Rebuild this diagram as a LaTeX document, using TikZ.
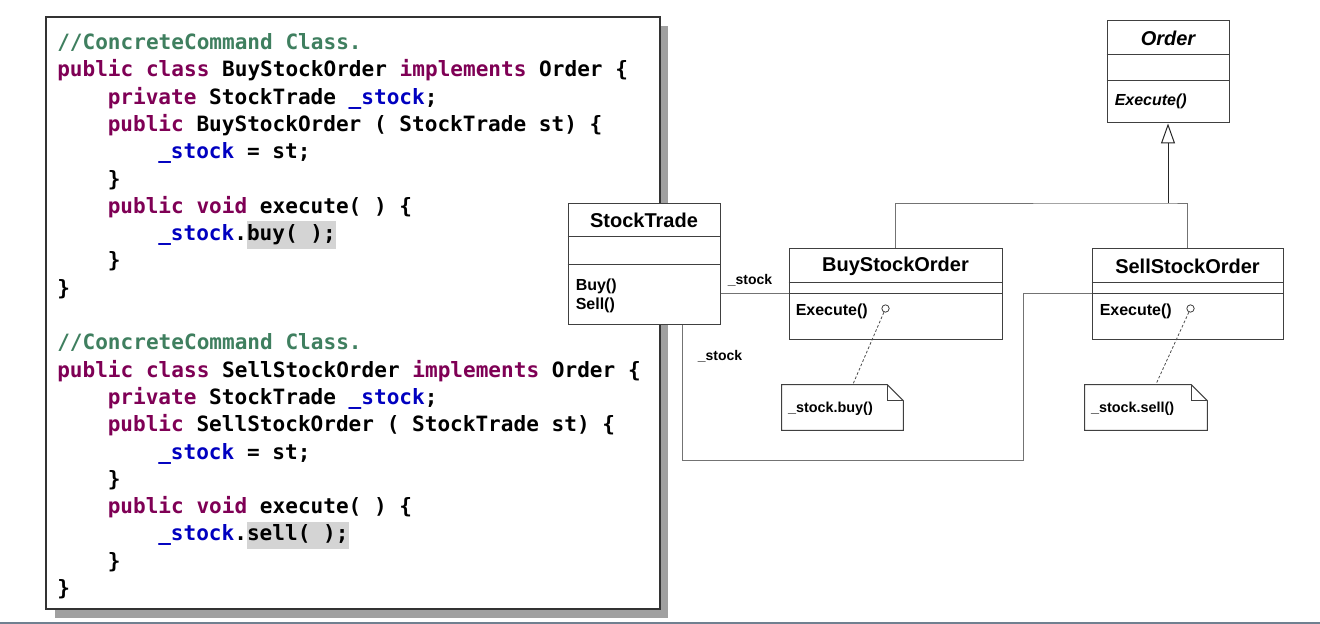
\documentclass[tikz,border=0pt]{standalone}
\usepackage{fontspec}
\setmainfont{Liberation Sans}
\newfontfamily\codefont{DejaVu Sans Mono}
\usepackage{tikz}
\usetikzlibrary{positioning, calc, fit, arrows.meta}
\definecolor{kwpurple}{HTML}{7F0055}
\definecolor{cmtgreen}{HTML}{3F7F5F}
\definecolor{fldblue}{HTML}{0000C0}
\definecolor{hlgray}{HTML}{D4D4D4}
\definecolor{shadowgray}{HTML}{A0A0A0}
\definecolor{rulegray}{HTML}{708090}
\newcommand{\kw}[1]{\textcolor{kwpurple}{#1}}
\newcommand{\cmt}[1]{\textcolor{cmtgreen}{#1}}
\newcommand{\fld}[1]{\textcolor{fldblue}{#1}}
\newcommand{\hlt}[1]{{\setlength{\fboxsep}{0pt}\colorbox{hlgray}{\strut#1}}}

\begin{document}
\begin{tikzpicture}[
  x=0.75pt, y=-0.75pt,
  codebox/.style={draw=black!80, fill=white, line width=0.9pt, inner sep=0},
  code/.style={anchor=base west, inner sep=0, font=\codefont\bfseries\fontsize{15.8}{20.5}\selectfont},
  cls/.style={draw=black!75, fill=white, line width=0.75pt, inner sep=0},
  divider/.style={draw=black!75, line width=0.75pt},
  cname/.style={inner sep=0, font=\bfseries\fontsize{15}{18}\selectfont},
  oper/.style={anchor=west, inner sep=0, align=left, font=\bfseries\fontsize{12}{14.25}\selectfont},
  role/.style={inner sep=0, font=\bfseries\fontsize{10.5}{12}\selectfont},
  assoc/.style={draw=black!55, line width=0.75pt},
  gen/.style={draw=black!85, line width=0.75pt, -{Triangle[open, length=15pt, width=10.5pt]}},
  notebox/.style={inner sep=0},
  noteline/.style={draw=black!75, line width=0.75pt},
  notetext/.style={anchor=west, inner sep=0, font=\bfseries\fontsize{10.8}{12}\selectfont},
  anchorpt/.style={circle, draw=black!75, fill=white, line width=0.6pt, inner sep=0, minimum size=5.5pt},
  link/.style={draw=black!70, line width=0.6pt, dash pattern=on 2pt off 1.5pt}
]
  \useasboundingbox (0,0) rectangle (1320,624);

  % code listing
  \fill[shadowgray] (55,26) rectangle (668,618);
  \node[codebox, fit={(46,17) (660,609)}] (listing) {};
  \foreach \i/\d/\txt in {
    0/0/{\cmt{//ConcreteCommand Class.}},
    1/0/{\kw{public class} BuyStockOrder \kw{implements} Order \{},
    2/1/{\kw{private} StockTrade \fld{\_stock};},
    3/1/{\kw{public} BuyStockOrder ( StockTrade st) \{},
    4/2/{\fld{\_stock} = st;},
    5/1/{\}},
    6/1/{\kw{public void} execute( ) \{},
    7/2/{\fld{\_stock}.\hlt{buy( );}},
    8/1/{\}},
    9/0/{\}},
    11/0/{\cmt{//ConcreteCommand Class.}},
    12/0/{\kw{public class} SellStockOrder \kw{implements} Order \{},
    13/1/{\kw{private} StockTrade \fld{\_stock};},
    14/1/{\kw{public} SellStockOrder ( StockTrade st) \{},
    15/2/{\fld{\_stock} = st;},
    16/1/{\}},
    17/1/{\kw{public void} execute( ) \{},
    18/2/{\fld{\_stock}.\hlt{sell( );}},
    19/1/{\}},
    20/0/{\}}}
    \node[code] (line\i) at ({57+\d*50.5},{49.5+\i*27.3}) {\txt};

  % classes
  \node[cls, fit={(568,203) (720,324)}] (st) {};
  \node[cname] at ($(st.north)+(0,18)$) {StockTrade};
  \draw[divider] ($(st.north west)+(0,34)$) -- ($(st.north east)+(0,34)$);
  \draw[divider] ($(st.north west)+(0,62)$) -- ($(st.north east)+(0,62)$);
  \node[oper] at ($(st.north west)+(8,93)$) {Buy()\\Sell()};

  \node[cls, fit={(789,248) (1002,339)}] (bso) {};
  \node[cname] at ($(bso.north)+(0,19)$) {BuyStockOrder};
  \draw[divider] ($(bso.north west)+(0,35)$) -- ($(bso.north east)+(0,35)$);
  \draw[divider] ($(bso.north west)+(0,46)$) -- ($(bso.north east)+(0,46)$);
  \node[oper] at ($(bso.north west)+(7,64)$) {Execute()};
  \node[anchorpt] (bpt) at ($(bso.north west)+(97,61)$) {};

  \node[cls, fit={(1092,248) (1283,339)}] (sso) {};
  \node[cname] at ($(sso.north)+(0,19)$) {SellStockOrder};
  \draw[divider] ($(sso.north west)+(0,35)$) -- ($(sso.north east)+(0,35)$);
  \draw[divider] ($(sso.north west)+(0,46)$) -- ($(sso.north east)+(0,46)$);
  \node[oper] at ($(sso.north west)+(8,64)$) {Execute()};
  \node[anchorpt] (spt) at ($(sso.north west)+(99,61)$) {};

  \node[cls, fit={(1107,21) (1229,123)}] (ord) {};
  \node[cname, font=\bfseries\itshape\fontsize{15}{18}\selectfont] at ($(ord.north)+(0,18)$) {Order};
  \draw[divider] ($(ord.north west)+(0,34)$) -- ($(ord.north east)+(0,34)$);
  \draw[divider] ($(ord.north west)+(0,60)$) -- ($(ord.north east)+(0,60)$);
  \node[oper, font=\bfseries\itshape\fontsize{12}{14.25}\selectfont] at ($(ord.north west)+(8,81)$) {Execute()};

  % notes
  \node[notebox, fit={(782,385) (903,430)}] (nb) {};
  \draw[noteline] (nb.north west) -- ($(nb.north east)+(-16,0)$) -- ($(nb.north east)+(0,16)$) -- (nb.south east) -- (nb.south west) -- cycle;
  \draw[noteline] ($(nb.north east)+(-16,0)$) |- ($(nb.north east)+(0,16)$);
  \node[notetext] at ($(nb.west)+(6,1)$) {\_stock.buy()};

  \node[notebox, fit={(1085,385) (1207,430)}] (ns) {};
  \draw[noteline] (ns.north west) -- ($(ns.north east)+(-16,0)$) -- ($(ns.north east)+(0,16)$) -- (ns.south east) -- (ns.south west) -- cycle;
  \draw[noteline] ($(ns.north east)+(-16,0)$) |- ($(ns.north east)+(0,16)$);
  \node[notetext] at ($(ns.west)+(6,1)$) {\_stock.sell()};

  \draw[link] (bpt) -- ($(nb.north west)+(71,0)$);
  \draw[link] (spt) -- ($(ns.north west)+(71,0)$);

  % associations
  \coordinate (bsoA) at ($(bso.north west)+(0,46)$);
  \coordinate (ssoA) at ($(sso.north west)+(0,46)$);
  \coordinate (stA) at ($(st.south west)+(115,0)$);
  \draw[assoc] (st.east |- bsoA) -- (bsoA);
  \node[role] at (750,280) {\_stock};
  \draw[assoc] (stA) -- ++(0,136) -| ($(ssoA)+(-68,0)$) -- (ssoA);
  \node[role] at (720,356) {\_stock};

  % generalization
  \coordinate (joint) at (ord.south |- 0,203);
  \draw[assoc] (bso.north) |- (joint) -| (sso.north);
  \draw[gen] (joint) -- (ord.south);

  \draw[rulegray, line width=1.5pt] (0,623) -- (1320,623);
\end{tikzpicture}
\end{document}
